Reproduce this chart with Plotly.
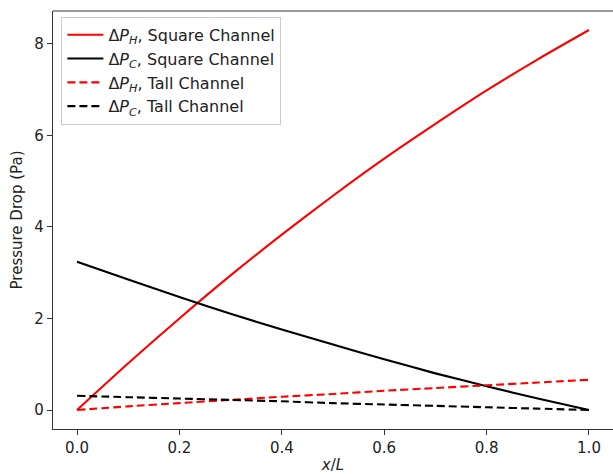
import plotly.graph_objects as go

# Position along the channel (normalised)
x_over_L = [0.0, 0.1, 0.2, 0.3, 0.4, 0.5, 0.6, 0.7, 0.8, 0.9, 1.0]

# Pressure drop (Pa) for hot and cold streams
dp_hot_square = [0.0, 1.02, 2.0, 2.94, 3.83, 4.68, 5.49, 6.25, 6.98, 7.66, 8.3]
dp_cold_square = [3.24, 2.85, 2.47, 2.10, 1.76, 1.43, 1.11, 0.80, 0.52, 0.25, 0.0]
dp_hot_tall = [0.0, 0.08, 0.15, 0.22, 0.29, 0.35, 0.42, 0.48, 0.54, 0.60, 0.66]
dp_cold_tall = [0.31, 0.28, 0.25, 0.22, 0.19, 0.15, 0.12, 0.09, 0.06, 0.03, 0.0]

series = [
    ("Δ<i>P</i><sub><i>H</i></sub>, Square Channel", dp_hot_square, "#ff0000", "solid"),
    ("Δ<i>P</i><sub><i>C</i></sub>, Square Channel", dp_cold_square, "#000000", "solid"),
    ("Δ<i>P</i><sub><i>H</i></sub>, Tall Channel", dp_hot_tall, "#ff0000", "8px,4px"),
    ("Δ<i>P</i><sub><i>C</i></sub>, Tall Channel", dp_cold_tall, "#000000", "8px,4px"),
]

fig = go.Figure()
for i, (name, vals, color, dash) in enumerate(series):
    fig.add_trace(go.Scatter(
        x=x_over_L, y=vals, mode="lines", name=name, legendgroup=f"g{i}",
        line=dict(color=color, width=2.1, dash=dash, shape="spline", smoothing=0.6),
    ))

FONT = "DejaVu Sans"
axis_common = dict(
    showgrid=False, zeroline=False, showline=True, linecolor="#333333", linewidth=1.2,
    ticks="outside", ticklen=5, tickwidth=1.1, tickcolor="#333333",
    tickfont=dict(family=FONT, size=15, color="#222222"),
)

fig.update_layout(
    width=613, height=474,
    margin=dict(l=53, r=0, t=11, b=45),
    paper_bgcolor="white", plot_bgcolor="white",
    font=dict(family=FONT, color="#222222"),
    xaxis=dict(
        range=[-0.0469, 1.0469],
        tickvals=[0.0, 0.2, 0.4, 0.6, 0.8, 1.0],
        ticktext=["0.0", "0.2", "0.4", "0.6", "0.8", "1.0"],
        title=dict(text="<i>x</i>/<i>L</i>", font=dict(family=FONT, size=15), standoff=5),
        **axis_common,
    ),
    yaxis=dict(
        range=[-0.415, 8.715],
        tickvals=[0, 2, 4, 6, 8],
        title=dict(text="Pressure Drop (Pa)", font=dict(family=FONT, size=15), standoff=8),
        **axis_common,
    ),
    legend=dict(
        x=0.015, y=0.986, xanchor="left", yanchor="top",
        bgcolor="rgba(255,255,255,0.8)", bordercolor="#cccccc", borderwidth=1,
        font=dict(family=FONT, size=16, color="#222222"),
        tracegroupgap=0, itemwidth=36,
    ),
    shapes=[dict(type="line", xref="paper", yref="paper", x0=0, x1=1, y0=1, y1=1,
                 line=dict(color="#333333", width=1.2))],
)

fig.write_html("out.html")
